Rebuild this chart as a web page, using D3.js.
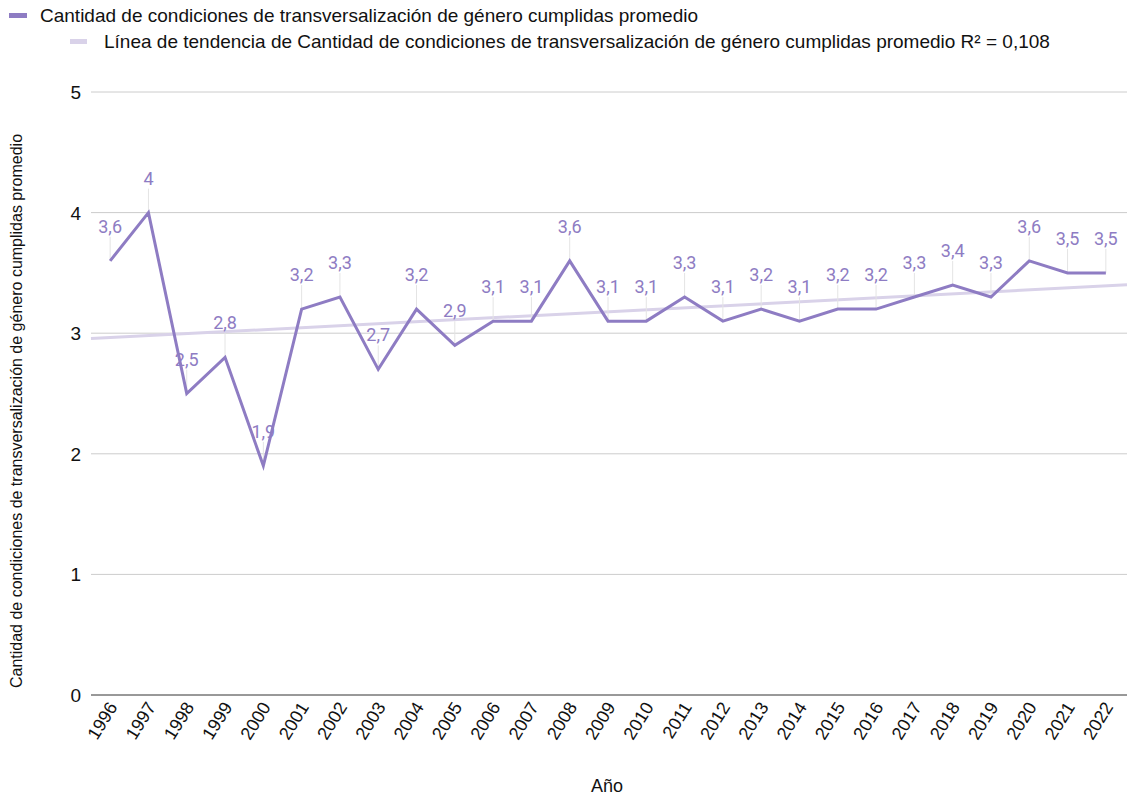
<!DOCTYPE html>
<html>
<head>
<meta charset="utf-8">
<script src="https://cdnjs.cloudflare.com/ajax/libs/d3/7.8.5/d3.min.js"></script>
<style>
  body { margin: 0; background: #fff; }
  svg { display: block; font-family: "Liberation Sans", Arial, sans-serif; }
</style>
</head>
<body>
<svg id="canvas" width="1127" height="796"></svg>
<script>
let years = ['1996','1997','1998','1999','2000','2001','2002','2003','2004','2005','2006','2007','2008','2009','2010','2011','2012','2013','2014','2015','2016','2017','2018','2019','2020','2021','2022']
let values = [3.6, 4, 2.5, 2.8, 1.9, 3.2, 3.3, 2.7, 3.2, 2.9, 3.1, 3.1, 3.6, 3.1, 3.1, 3.3, 3.1, 3.2, 3.1, 3.2, 3.2, 3.3, 3.4, 3.3, 3.6, 3.5, 3.5]
let yTicks = [0, 1, 2, 3, 4, 5]
let seriesName = 'Cantidad de condiciones de transversalización de género cumplidas promedio'
let trendName = 'Línea de tendencia de Cantidad de condiciones de transversalización de género cumplidas promedio R² = 0,108'

let lineColor = '#8e7cc3'
let trendColor = '#d9d2e9'

let canvas = d3.select('#canvas')

let xScale = d3.scaleBand().domain(years).range([91, 1125])
let yScale = d3.scaleLinear().domain([0, 5]).range([695, 92])
let cx = (i) => xScale(years[i]) + xScale.bandwidth() / 2

// gridlines + y labels
canvas.append('g')
  .selectAll('line')
  .data(yTicks)
  .enter()
  .append('line')
  .attr('x1', 91).attr('x2', 1127)
  .attr('y1', d => yScale(d)).attr('y2', d => yScale(d))
  .attr('stroke', d => d === 0 ? '#333' : '#ccc')
  .attr('stroke-width', 1)

canvas.append('g')
  .selectAll('text')
  .data(yTicks)
  .enter()
  .append('text')
  .attr('x', 81)
  .attr('y', d => yScale(d) + 7)
  .attr('text-anchor', 'end')
  .attr('font-size', 19)
  .attr('fill', '#111')
  .text(d => d)

// x labels
canvas.append('g')
  .selectAll('text')
  .data(years)
  .enter()
  .append('text')
  .attr('transform', (d, i) => 'translate(' + (cx(i) + 8) + ',707) rotate(-58)')
  .attr('text-anchor', 'end')
  .attr('font-size', 18)
  .attr('fill', '#111')
  .text(d => d)

// trendline (least squares on the series)
let n = values.length
let xs = d3.range(n)
let mx = d3.mean(xs), my = d3.mean(values)
let slope = d3.sum(xs, i => (i - mx) * (values[i] - my)) / d3.sum(xs, i => (i - mx) * (i - mx))
let icpt = my - slope * mx
let step = xScale.step()
let xToIdx = (px) => (px - cx(0)) / step
canvas.append('line')
  .attr('x1', 91).attr('x2', 1127)
  .attr('y1', yScale(icpt + slope * xToIdx(91)))
  .attr('y2', yScale(icpt + slope * xToIdx(1127)))
  .attr('stroke', trendColor)
  .attr('stroke-width', 3)

// leader lines
canvas.append('g')
  .selectAll('line')
  .data(values)
  .enter()
  .append('line')
  .attr('x1', (d, i) => cx(i)).attr('x2', (d, i) => cx(i))
  .attr('y1', d => yScale(d))
  .attr('y2', d => yScale(d) - 24)
  .attr('stroke', '#e4e4e4')
  .attr('stroke-width', 1)

// series line
let line = d3.line()
  .x((d, i) => cx(i))
  .y(d => yScale(d))
canvas.append('path')
  .datum(values)
  .attr('d', line)
  .attr('fill', 'none')
  .attr('stroke', lineColor)
  .attr('stroke-width', 3)
  .attr('stroke-linejoin', 'miter')

// data labels
canvas.append('g')
  .selectAll('text')
  .data(values)
  .enter()
  .append('text')
  .attr('x', (d, i) => cx(i))
  .attr('y', d => yScale(d) - 28)
  .attr('text-anchor', 'middle')
  .attr('font-family', 'Roboto, sans-serif')
  .attr('font-size', 18)
  .attr('fill', lineColor)
  .text(d => String(d).replace('.', ','))

// legend
canvas.append('rect').attr('x', 9).attr('y', 13).attr('width', 18).attr('height', 5).attr('fill', lineColor)
canvas.append('text').attr('x', 40).attr('y', 22).attr('font-size', 19).attr('fill', '#111').text(seriesName)
canvas.append('rect').attr('x', 70).attr('y', 39).attr('width', 17).attr('height', 5).attr('fill', trendColor)
canvas.append('text').attr('x', 104).attr('y', 48).attr('font-size', 19).attr('fill', '#111').text(trendName)

// axis titles
canvas.append('text')
  .attr('x', 607).attr('y', 792)
  .attr('text-anchor', 'middle')
  .attr('font-size', 18)
  .attr('fill', '#111')
  .text('Año')

canvas.append('text')
  .attr('transform', 'translate(22,411) rotate(-90)')
  .attr('text-anchor', 'middle')
  .attr('font-size', 16)
  .attr('fill', '#111')
  .text('Cantidad de condiciones de transversalización de género cumplidas promedio')
</script>
</body>
</html>
